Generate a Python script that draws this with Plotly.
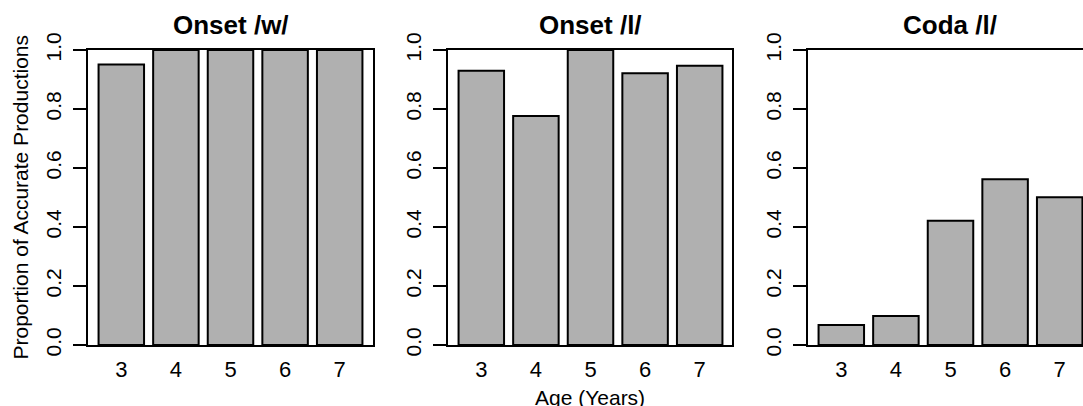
import plotly.graph_objects as go

ages = ["3", "4", "5", "6", "7"]
onset_w = [0.951, 1.0, 1.0, 1.0, 1.0]
onset_l = [0.930, 0.776, 1.0, 0.921, 0.947]
coda_l = [0.068, 0.098, 0.421, 0.562, 0.501]
titles = ["Onset /w/", "Onset /l/", "Coda /l/"]
y_ticks = [0.0, 0.2, 0.4, 0.6, 0.8, 1.0]
y_label = "Proportion of Accurate Productions"
x_label = "Age (Years)"

W, H = 1083, 406
FONT = "Liberation Sans, Arial, Helvetica, sans-serif"
BAR_COLOR = "#B0B0B0"

# plot regions in pixels
panels_px = [(88, 373), (448, 732), (808, 1083)]
y_top, y_bot = 50, 345
ydom = [(H - y_bot) / H, (H - y_top) / H]

fig = go.Figure()
series = [onset_w, onset_l, coda_l]
px_per_unit = 285 / 5.22

for i, (vals, (x0, x1)) in enumerate(zip(series, panels_px)):
    idx = "" if i == 0 else str(i + 1)
    fig.add_trace(go.Bar(
        x=ages, y=vals, xaxis="x" + idx, yaxis="y" + idx,
        marker=dict(color=BAR_COLOR, line=dict(color="black", width=2)),
        width=1 / 1.2, showlegend=False, hoverinfo="x+y",
    ))
    rng_end = -0.61 + (x1 - x0) / px_per_unit
    full = i < 2
    fig.layout["xaxis" + idx] = dict(
        domain=[x0 / W, x1 / W], range=[-0.61, rng_end], type="category",
        anchor="y" + idx, showline=True, linecolor="black", linewidth=2,
        mirror=True, ticks="", showgrid=False, zeroline=False,
        tickfont=dict(family=FONT, size=22, color="black"),
        ticklabelstandoff=4, automargin=False, fixedrange=True,
    )
    fig.layout["yaxis" + idx] = dict(
        domain=ydom, range=[0, 1], anchor="x" + idx,
        showline=True, linecolor="black", linewidth=2, mirror=full,
        ticks="outside", ticklen=13, tickwidth=2, tickcolor="black",
        tickvals=y_ticks, ticktext=[f"{v:.1f}" for v in y_ticks],
        tickangle=-90, showgrid=False, zeroline=False,
        tickfont=dict(family=FONT, size=21, color="black"),
        ticklabelstandoff=4, automargin=False, fixedrange=True,
    )
    fig.add_annotation(
        text="<b>" + titles[i] + "</b>", xref="paper", yref="paper",
        x=((x0 + (x0 + 285)) / 2) / W if i == 2 else ((x0 + x1) / 2) / W,
        y=(H - 25) / H, xanchor="center", yanchor="middle", showarrow=False,
        font=dict(family=FONT, size=26, color="black"),
    )

fig.add_annotation(
    text=y_label, xref="paper", yref="paper", x=20 / W, y=(H - 197.5) / H,
    textangle=-90, xanchor="center", yanchor="middle", showarrow=False,
    font=dict(family=FONT, size=21, color="black"),
)
fig.add_annotation(
    text=x_label, xref="paper", yref="paper", x=590 / W, y=(H - 397) / H,
    xanchor="center", yanchor="middle", showarrow=False,
    font=dict(family=FONT, size=21, color="black"),
)

fig.update_layout(
    width=W, height=H, margin=dict(l=0, r=0, t=0, b=0),
    paper_bgcolor="white", plot_bgcolor="white", bargap=1 - 1 / 1.2,
)

fig.write_html(
    "out.html",
    config={"displayModeBar": False},
    post_script="document.body.style.margin='0px';document.body.style.overflow='hidden';",
)
